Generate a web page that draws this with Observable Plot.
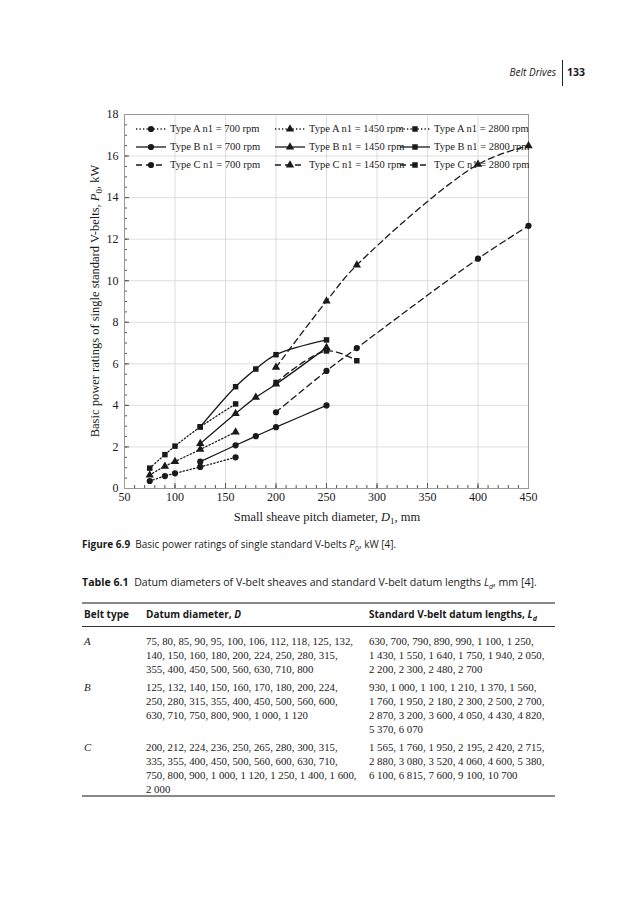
<!DOCTYPE html>
<html><head><meta charset="utf-8">
<script src="https://cdn.jsdelivr.net/npm/d3@7"></script>
<script src="https://cdn.jsdelivr.net/npm/@observablehq/plot@0.6"></script>
<style>
html,body{margin:0;padding:0;background:#fff;}
body{width:627px;height:900px;position:relative;overflow:hidden;color:#1a1a1a;}
.abs{position:absolute;white-space:nowrap;}
.sans{font-family:"Open Sans","Noto Sans",sans-serif;}
.serif{font-family:"Liberation Serif","DejaVu Serif",serif;}
.tl{font-size:10.8px;line-height:14px;}
.lg{position:absolute;font-family:"Liberation Serif",serif;font-size:10.5px;line-height:16px;white-space:nowrap;}
</style></head><body>

<div class="abs sans" style="left:440px;top:64px;width:116px;text-align:right;font-size:10px;font-style:italic;line-height:16px;">Belt Drives</div>
<div class="abs" style="left:562px;top:60px;width:1px;height:26px;background:#222;"></div>
<div class="abs sans" style="left:567px;top:64px;font-size:10.5px;font-weight:700;line-height:16px;">133</div>

<div id="chart" class="abs" style="left:60px;top:100px;"></div>
<div id="legend"></div>

<div class="abs sans" style="left:82px;top:536px;font-size:10px;line-height:16px;"><b>Figure 6.9</b>&nbsp; Basic power ratings of single standard V-belts <i>P</i><sub style="font-size:7px">0</sub>, kW [4].</div>

<div class="abs sans" style="left:82px;top:574px;font-size:10.6px;line-height:16px;"><b>Table 6.1</b>&nbsp; Datum diameters of V-belt sheaves and standard V-belt datum lengths <i>L</i><sub style="font-size:7px"><i>d</i></sub>, mm [4].</div>

<div class="abs" style="left:82px;top:602px;width:473px;height:1.5px;background:#888;"></div>
<div class="abs sans" style="left:84px;top:607px;font-size:10px;font-weight:700;line-height:14px;">Belt type</div>
<div class="abs sans" style="left:146px;top:607px;font-size:10px;font-weight:700;line-height:14px;">Datum diameter, <i>D</i></div>
<div class="abs sans" style="left:369px;top:607px;font-size:10px;font-weight:700;line-height:14px;">Standard V-belt datum lengths, <i>L</i><sub style="font-size:7px"><i>d</i></sub></div>
<div class="abs" style="left:82px;top:626px;width:473px;height:1px;background:#333;"></div>

<div class="abs serif tl" style="left:84px;top:634px;font-style:italic;">A</div>
<div class="abs serif tl" style="left:146px;top:634px;">75, 80, 85, 90, 95, 100, 106, 112, 118, 125, 132,<br>140, 150, 160, 180, 200, 224, 250, 280, 315,<br>355, 400, 450, 500, 560, 630, 710, 800</div>
<div class="abs serif tl" style="left:369px;top:634px;">630, 700, 790, 890, 990, 1 100, 1 250,<br>1 430, 1 550, 1 640, 1 750, 1 940, 2 050,<br>2 200, 2 300, 2 480, 2 700</div>

<div class="abs serif tl" style="left:84px;top:680px;font-style:italic;">B</div>
<div class="abs serif tl" style="left:146px;top:680px;">125, 132, 140, 150, 160, 170, 180, 200, 224,<br>250, 280, 315, 355, 400, 450, 500, 560, 600,<br>630, 710, 750, 800, 900, 1 000, 1 120</div>
<div class="abs serif tl" style="left:369px;top:680px;">930, 1 000, 1 100, 1 210, 1 370, 1 560,<br>1 760, 1 950, 2 180, 2 300, 2 500, 2 700,<br>2 870, 3 200, 3 600, 4 050, 4 430, 4 820,<br>5 370, 6 070</div>

<div class="abs serif tl" style="left:84px;top:740px;font-style:italic;">C</div>
<div class="abs serif tl" style="left:146px;top:740px;">200, 212, 224, 236, 250, 265, 280, 300, 315,<br>335, 355, 400, 450, 500, 560, 600, 630, 710,<br>750, 800, 900, 1 000, 1 120, 1 250, 1 400, 1 600,<br>2 000</div>
<div class="abs serif tl" style="left:369px;top:740px;">1 565, 1 760, 1 950, 2 195, 2 420, 2 715,<br>2 880, 3 080, 3 520, 4 060, 4 600, 5 380,<br>6 100, 6 815, 7 600, 9 100, 10 700</div>
<div class="abs" style="left:82px;top:795px;width:473px;height:1.5px;background:#888;"></div>

<script>
// ---- data ----
const dA = [75, 90, 100, 125, 160];
const pA700  = [0.36, 0.60, 0.73, 1.04, 1.50];
const pA1450 = [0.65, 1.07, 1.30, 1.88, 2.72];
const pA2800 = [0.98, 1.63, 2.04, 2.96, 4.07];

const dB = [125, 160, 180, 200, 250];
const pB700  = [1.29, 2.08, 2.52, 2.95, 4.00];
const pB1450 = [2.16, 3.61, 4.39, 5.02, 6.78];
const pB2800 = [2.97, 4.90, 5.75, 6.44, 7.15];

const dC700  = [200, 250, 280, 400, 450];
const pC700  = [3.67, 5.66, 6.76, 11.06, 12.64];
const dC1450 = [200, 250, 280, 400, 450];
const pC1450 = [5.83, 9.02, 10.75, 15.6, 16.49];
const dC2800 = [200, 250, 280];
const pC2800 = [5.10, 6.62, 6.15];

const xTicks = [50, 100, 150, 200, 250, 300, 350, 400, 450];
const yTicks = [0, 2, 4, 6, 8, 10, 12, 14, 16, 18];
const speeds = [700, 1450, 2800];
const types = ["A", "B", "C"];

const seriesList = [
  {type:"A", rpm:700,  D:dA,     P:pA700},
  {type:"A", rpm:1450, D:dA,     P:pA1450},
  {type:"A", rpm:2800, D:dA,     P:pA2800},
  {type:"B", rpm:700,  D:dB,     P:pB700},
  {type:"B", rpm:1450, D:dB,     P:pB1450},
  {type:"B", rpm:2800, D:dB,     P:pB2800},
  {type:"C", rpm:700,  D:dC700,  P:pC700},
  {type:"C", rpm:1450, D:dC1450, P:pC1450},
  {type:"C", rpm:2800, D:dC2800, P:pC2800}
];
const rows = seriesList.flatMap(s => s.D.map((d, i) => ({D:d, P:s.P[i], type:s.type, rpm:s.rpm, key:s.type + s.rpm})));

const dashOf = {A:"1.3,2.2", B:null, C:"6,4"};
const symOf = {700:"circle", 1450:"triangle", 2800:"square"};
const ink = "#1a1a1a";

const minorX = d3.range(50, 451, 10);
const minorY = d3.range(0, 18.01, 0.5);

const lineMarks = types.map(t => Plot.line(rows.filter(r => r.type === t), {
  x:"D", y:"P", z:"key", curve:"catmull-rom", stroke:ink, strokeWidth:1.3,
  strokeDasharray: dashOf[t]
}));

const chart = Plot.plot({
  width:480, height:430,
  marginLeft:64, marginRight:12, marginTop:14, marginBottom:42,
  x:{domain:[50, 450], label:null},
  y:{domain:[0, 18], label:null},
  symbol:{domain:speeds, range:speeds.map(s => symOf[s])},
  style:{fontFamily:"Liberation Serif, serif", fontSize:"12px", color:ink, background:"transparent"},
  marks:[
    Plot.gridX(xTicks, {stroke:"#d6d6d6", strokeOpacity:1, strokeWidth:0.8}),
    Plot.gridY(yTicks, {stroke:"#d6d6d6", strokeOpacity:1, strokeWidth:0.8}),
    Plot.axisX(minorX, {tickSize:-3, tickFormat:() => "", stroke:"#555"}),
    Plot.axisY(minorY, {tickSize:-3, tickFormat:() => "", stroke:"#555"}),
    Plot.axisX(xTicks, {tickSize:-5, tickFormat:() => "", stroke:"#555"}),
    Plot.axisY(yTicks, {tickSize:-5, tickFormat:() => "", stroke:"#555"}),
    Plot.axisX(xTicks, {tickSize:0, tickPadding:4, fontSize:12}),
    Plot.axisY(yTicks, {tickSize:0, tickPadding:6, fontSize:12}),
    Plot.frame({stroke:"#999", strokeWidth:1}),
    ...lineMarks,
    Plot.dot(rows, {x:"D", y:"P", symbol:"rpm", fill:ink, stroke:"none", r:3.1})
  ]
});
document.getElementById("chart").appendChild(chart);

// axis titles with subscripts
const svg = d3.select(chart);
const xl = svg.append("text").attr("x", 267).attr("y", 421).attr("text-anchor", "middle")
  .attr("font-family", "Liberation Serif, serif").attr("font-size", 12.5).attr("fill", ink);
xl.append("tspan").text("Small sheave pitch diameter, ");
xl.append("tspan").attr("font-style", "italic").text("D");
xl.append("tspan").attr("font-size", 9).attr("dy", 3).text("1");
xl.append("tspan").attr("dy", -3).text(", mm");

const yl = svg.append("text").attr("transform", "translate(39,201) rotate(-90)").attr("text-anchor", "middle")
  .attr("font-family", "Liberation Serif, serif").attr("font-size", 12.5).attr("fill", ink);
yl.append("tspan").text("Basic power ratings of single standard V-belts, ");
yl.append("tspan").attr("font-style", "italic").text("P");
yl.append("tspan").attr("font-size", 9).attr("dy", 3).text("0");
yl.append("tspan").attr("dy", -3).text(", kW");

// legend (3 columns x 3 rows, transparent)
const legend = document.getElementById("legend");
const textLeft = [170, 309, 434];
const rowTop = [121, 139, 157];
const w = 30;
seriesList.forEach(s => {
  const c = speeds.indexOf(s.rpm), r = types.indexOf(s.type);
  const sample = d3.create("svg").attr("width", w).attr("height", 12)
    .style("position", "absolute").style("left", (textLeft[c] - w - 4) + "px").style("top", (rowTop[r] + 2) + "px");
  sample.append("line").attr("x1", 0).attr("x2", w).attr("y1", 6).attr("y2", 6)
    .attr("stroke", ink).attr("stroke-width", 1.3)
    .attr("stroke-dasharray", dashOf[s.type] || null);
  const sym = {circle:d3.symbolCircle, triangle:d3.symbolTriangle, square:d3.symbolSquare}[symOf[s.rpm]];
  sample.append("path").attr("transform", `translate(${w/2},6)`)
    .attr("d", d3.symbol(sym, Math.PI * 3.1 * 3.1)()).attr("fill", ink);
  legend.appendChild(sample.node());
  const span = document.createElement("div");
  span.className = "lg";
  span.style.left = textLeft[c] + "px";
  span.style.top = rowTop[r] + "px";
  span.textContent = `Type ${s.type} n1 = ${s.rpm} rpm`;
  legend.appendChild(span);
});
</script>
</body></html>
